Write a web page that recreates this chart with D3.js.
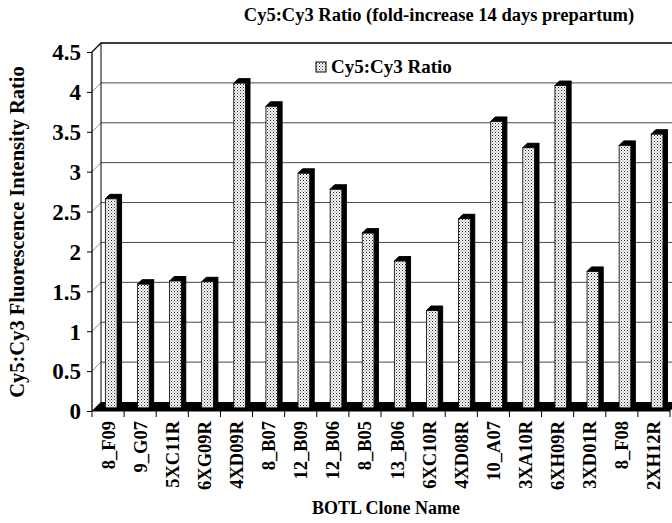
<!DOCTYPE html>
<html>
<head>
<meta charset="utf-8">
<script src="https://cdn.jsdelivr.net/npm/d3@7"></script>
<style>
  html, body { margin: 0; padding: 0; background: #fff; }
  svg { display: block; }
  text { font-family: "Liberation Serif", "Times New Roman", serif; font-weight: bold; fill: #000; }
</style>
</head>
<body>
<svg id="chart" width="672" height="523" font-family="Liberation Serif, serif"></svg>
<script>
// Clone names along the category axis
const clones = ["8_F09", "9_G07", "5XC11R", "6XG09R", "4XD09R", "8_B07", "12_B09", "12_B06", "8_B05",
                "13_B06", "6XC10R", "4XD08R", "10_A07", "3XA10R", "6XH09R", "3XD01R", "8_F08", "2XH12R"];
// Cy5:Cy3 fold-increase ratio per clone
const ratios = [2.62, 1.55, 1.59, 1.58, 4.07, 3.78, 2.94, 2.74, 2.19,
                1.84, 1.22, 2.37, 3.59, 3.26, 4.04, 1.71, 3.29, 3.43];
// Value-axis tick labels
const yTicks = [0, 0.5, 1, 1.5, 2, 2.5, 3, 3.5, 4, 4.5];
const seriesName = "Cy5:Cy3 Ratio";

const svg = d3.select("#chart");
const serif = '"Liberation Serif", "Times New Roman", serif';

// Front plane of the pseudo-3D box; depth shifts points up and to the right.
const plotLeft = 92, plotRight = 670, plotBottom = 411, plotTop = 52;
const depthX = 9, depthY = -9;
const x = d3.scaleBand().domain(clones).range([plotLeft, plotRight]).paddingInner(0).paddingOuter(0);
const y = d3.scaleLinear().domain([0, 4.5]).range([plotBottom, plotTop]);
const at = (px, py, z) => [px + depthX * z, py + depthY * z];

// Stipple fill for the bar faces
const defs = svg.append("defs");
const pat = defs.append("pattern").attr("id", "stipple")
  .attr("patternUnits", "userSpaceOnUse").attr("width", 3).attr("height", 3);
pat.append("rect").attr("width", 3).attr("height", 3).attr("fill", "#fff");
pat.append("rect").attr("x", 0).attr("y", 0).attr("width", 1).attr("height", 1).attr("fill", "#222");
pat.append("rect").attr("x", 1.5).attr("y", 1.5).attr("width", 1).attr("height", 1).attr("fill", "#555");

const poly = pts => "M" + pts.map(p => p.join(",")).join("L") + "Z";

// Back wall gridlines
const [bx0] = at(plotLeft, 0, 1);
const [bx1] = at(plotRight, 0, 1);
svg.append("g").selectAll("line").data(yTicks.slice(1, -1)).join("line")
  .attr("x1", bx0).attr("x2", bx1 + 20)
  .attr("y1", d => at(0, y(d), 1)[1]).attr("y2", d => at(0, y(d), 1)[1])
  .attr("stroke", "#4a4a4a").attr("stroke-width", 1);
// Side wall gridlines (diagonals)
svg.append("g").selectAll("line").data(yTicks.slice(0, -1)).join("line")
  .attr("x1", plotLeft).attr("y1", d => y(d))
  .attr("x2", bx0).attr("y2", d => at(0, y(d), 1)[1])
  .attr("stroke", "#777").attr("stroke-width", 0.8);

// Box outline: back-left edge, top edges, front value-axis line
const topBack = at(plotLeft, y(4.5), 1);
svg.append("path")
  .attr("d", `M${plotLeft},${plotBottom}L${plotLeft},${y(4.5)}L${topBack[0]},${topBack[1]}L${bx1 + 20},${topBack[1]}`)
  .attr("fill", "none").attr("stroke", "#000").attr("stroke-width", 1.3);
svg.append("line")
  .attr("x1", topBack[0]).attr("x2", topBack[0])
  .attr("y1", topBack[1]).attr("y2", at(0, plotBottom, 1)[1])
  .attr("stroke", "#000").attr("stroke-width", 1);

// Floor (drawn black)
svg.append("path")
  .attr("d", poly([[plotLeft, plotBottom], at(plotLeft, plotBottom, 1), at(plotRight, plotBottom, 1), [plotRight, plotBottom]]))
  .attr("fill", "#000");

// Bars: stippled front face, black side and top
const zF = 0.35, zB = 0.85, bw = 11.7;
const bars = svg.append("g").selectAll("g").data(clones.map((c, i) => ({ c, v: ratios[i] }))).join("g");
bars.each(function (d) {
  const g = d3.select(this);
  const cx = x(d.c) + x.bandwidth() / 2;
  const fl = at(cx - bw / 2, y(d.v), zF), fr = at(cx + bw / 2, y(d.v), zF);
  const fb = at(cx + bw / 2, y(0), zF);
  const bl = at(cx - bw / 2, y(d.v), zB), br = at(cx + bw / 2, y(d.v), zB);
  const bb = at(cx + bw / 2, y(0), zB);
  g.append("path").attr("d", poly([fr, br, bb, fb])).attr("fill", "#000").attr("stroke", "#000");
  g.append("path").attr("d", poly([fl, bl, br, fr])).attr("fill", "#000").attr("stroke", "#000");
  g.append("rect").attr("x", fl[0]).attr("y", fl[1]).attr("width", bw).attr("height", fb[1] - fl[1])
    .attr("fill", "url(#stipple)").attr("stroke", "#000").attr("stroke-width", 0.8);
});

// Value axis
const yAxis = svg.append("g").attr("transform", `translate(${plotLeft},0)`)
  .call(d3.axisLeft(y).tickValues(yTicks).tickSize(5).tickPadding(6).tickFormat(d => String(d)));
yAxis.attr("font-family", null);
yAxis.select(".domain").remove();
yAxis.selectAll("line").attr("stroke", "#000");
yAxis.selectAll("text").style("font-family", serif).style("font-size", "23px").attr("dy", "0.34em");

// Category axis: boundary ticks along the front floor edge
svg.append("line").attr("x1", plotLeft).attr("x2", plotRight).attr("y1", plotBottom).attr("y2", plotBottom)
  .attr("stroke", "#000").attr("stroke-width", 1.2);
svg.append("g").selectAll("line").data(clones.concat([null])).join("line")
  .attr("x1", (d, i) => plotLeft + i * x.step()).attr("x2", (d, i) => plotLeft + i * x.step())
  .attr("y1", plotBottom).attr("y2", plotBottom + 6).attr("stroke", "#000");
const xAxis = svg.append("g").attr("transform", `translate(0,${plotBottom})`)
  .call(d3.axisBottom(x).tickSize(0).tickPadding(0));
xAxis.attr("font-family", null);
xAxis.select(".domain").remove();
xAxis.selectAll("text")
  .style("font-family", serif)
  .style("font-size", "18.5px")
  .attr("text-anchor", "end")
  .attr("transform", "translate(0,10) rotate(-90)")
  .attr("x", 0).attr("y", 0).attr("dy", "0.35em");

// Titles
svg.append("text").attr("x", 439).attr("y", 21).attr("text-anchor", "middle")
  .style("font-size", "18.5px").text("Cy5:Cy3 Ratio (fold-increase 14 days prepartum)");
svg.append("text").attr("transform", "translate(24,232) rotate(-90)").attr("text-anchor", "middle")
  .style("font-size", "20.5px").text("Cy5:Cy3 Fluorescence Intensity Ratio");
svg.append("text").attr("x", 386).attr("y", 514).attr("text-anchor", "middle")
  .style("font-size", "18px").text("BOTL Clone Name");

// Legend
const lg = svg.append("g").attr("transform", "translate(316,60)");
lg.append("rect").attr("x", 0).attr("y", 2).attr("width", 10).attr("height", 10)
  .attr("fill", "url(#stipple)").attr("stroke", "#000").attr("stroke-width", 1);
lg.append("text").attr("x", 15).attr("y", 13).style("font-size", "19px").text(seriesName);
</script>
</body>
</html>
